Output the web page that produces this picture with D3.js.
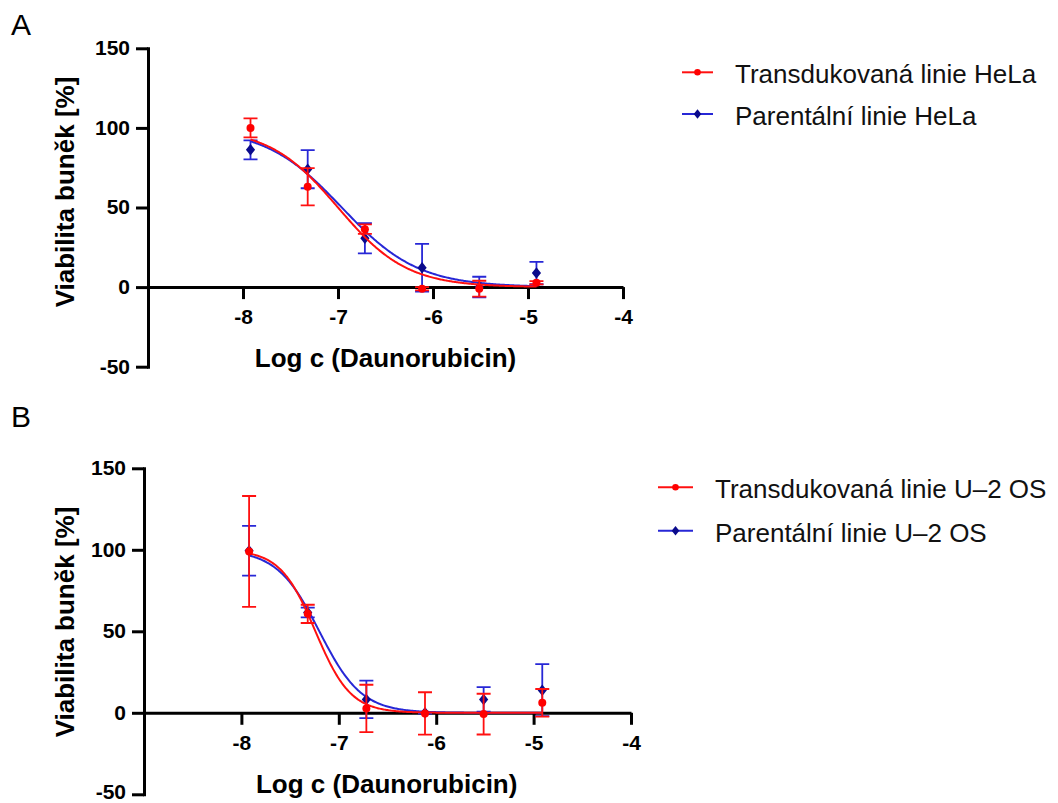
<!DOCTYPE html>
<html>
<head>
<meta charset="utf-8">
<script src="https://cdn.jsdelivr.net/npm/d3@7"></script>
<style>
  body { margin: 0; background: #fff; }
  svg { display: block; font-family: "Liberation Sans", Arial, sans-serif; }
</style>
</head>
<body>
<div id="container"></div>
<script>
// log concentration of daunorubicin (same for both panels)
const logConc = [-7.921, -7.319, -6.717, -6.115, -5.513, -4.911];

// panel A – HeLa
const helaTransMean = [100, 63, 36.4, -1, -1, 2.7];
const helaTransSd = [6, 11.7, 3, 1, 5, 1];
const helaParMean = [86.2, 74.1, 30.7, 12.2, 0, 8.8];
const helaParSd = [6, 12, 9.5, 15, 6.5, 7];

// panel B – U-2 OS
const u2osTransMean = [99, 60.7, 2.7, -0.4, -0.8, 6.1];
const u2osTransSd = [34, 5.6, 14.5, 13, 12.5, 8.5];
const u2osParMean = [99.4, 61.5, 8.2, 0, 8.2, 13.9];
const u2osParSd = [15.3, 3, 11.5, 0.5, 7.5, 16];

// four-parameter logistic fits: [bottom, top, logIC50, hill]
const helaTransFit = [0, 100, -7.0, 1.2];
const helaParFit = [0, 100, -6.96, 1.08];
const u2osTransFit = [0, 100, -7.24, 2.4];
const u2osParFit = [0, 100, -7.2, 2.0];

const xTicks = [-8, -7, -6, -5, -4];
const yTicks = [-50, 0, 50, 100, 150];
const xTitle = "Log c (Daunorubicin)";
const yTitle = "Viabilita buněk [%]";

const RED = "#ff1010", RED_DOT = "#ff0000";
const BLUE = "#2727d6", BLUE_DOT = "#0a0a8c";

const width = 1058, height = 803;
const svg = d3.select("#container").append("svg")
  .attr("width", width).attr("height", height);

const logistic = (p, x) => p[0] + (p[1] - p[0]) / (1 + Math.pow(10, (x - p[2]) * p[3]));

const panels = [
  {
    label: "A", labelY: 35,
    xr: [148, 623], yr: [366.7, 48.3],
    xTitleX: 385.5, xTitleY: 366.7, yTitleY: 192,
    legend: { x0: 682, x1: 713, tx: 735, y: [83.3, 125] },
    series: [
      { name: "Parentální linie HeLa", mean: helaParMean, sd: helaParSd, fit: helaParFit, color: BLUE, dot: BLUE_DOT, shape: "diamond" },
      { name: "Transdukovaná linie HeLa", mean: helaTransMean, sd: helaTransSd, fit: helaTransFit, color: RED, dot: RED_DOT, shape: "circle" }
    ]
  },
  {
    label: "B", labelY: 427,
    xr: [144, 631], yr: [794.3, 468.3],
    xTitleX: 386.7, xTitleY: 793, yTitleY: 622,
    legend: { x0: 658, x1: 693, tx: 715, y: [498.3, 541.7] },
    series: [
      { name: "Parentální linie U–2 OS", mean: u2osParMean, sd: u2osParSd, fit: u2osParFit, color: BLUE, dot: BLUE_DOT, shape: "diamond" },
      { name: "Transdukovaná linie U–2 OS", mean: u2osTransMean, sd: u2osTransSd, fit: u2osTransFit, color: RED, dot: RED_DOT, shape: "circle" }
    ]
  }
];

const drawMarker = (g, shape, color, r) => {
  if (shape === "circle") {
    g.append("circle").attr("r", r).attr("fill", color);
  } else {
    const w = r, h = r * 1.25;
    g.append("path").attr("d", `M0,${-h}L${w},0L0,${h}L${-w},0Z`).attr("fill", color);
  }
};

panels.forEach(p => {
  const x = d3.scaleLinear([-9, -4], p.xr);
  const y = d3.scaleLinear([-50, 150], p.yr);
  const g = svg.append("g");

  g.append("text").attr("x", 11).attr("y", p.labelY)
    .attr("font-size", 30).text(p.label);

  // axes
  const yAxis = g.append("g").attr("transform", `translate(${p.xr[0]},0)`)
    .call(d3.axisLeft(y).tickValues(yTicks).tickSize(12).tickSizeOuter(0).tickPadding(6).tickFormat(d => d));
  const xAxis = g.append("g").attr("transform", `translate(0,${y(0)})`)
    .call(d3.axisBottom(x).tickValues(xTicks).tickSize(12).tickSizeOuter(0).tickPadding(10).tickFormat(d => d));
  [yAxis, xAxis].forEach(a => {
    a.selectAll("path, line").attr("stroke", "#000").attr("stroke-width", 3);
    a.selectAll("text").attr("font-size", 21).attr("font-weight", "bold")
      .attr("font-family", "'Liberation Sans', Arial, sans-serif").attr("fill", "#000");
  });
  // keep the lowest label inside the page
  yAxis.selectAll("text").attr("dy", d => d === -50 && p.yr[0] > 790 ? "0.18em" : "0.3em");
  yAxis.select(".domain").attr("stroke-linecap", "square");

  g.append("text").attr("x", p.xTitleX).attr("y", p.xTitleY)
    .attr("text-anchor", "middle").attr("font-size", 26).attr("font-weight", "bold").text(xTitle);
  g.append("text").attr("transform", `translate(74,${p.yTitleY}) rotate(-90)`)
    .attr("text-anchor", "middle").attr("font-size", 26).attr("font-weight", "bold").text(yTitle);

  const line = d3.line().x(d => x(d[0])).y(d => y(d[1]));
  const xs = d3.range(logConc[0], logConc[logConc.length - 1] + 0.001, 0.01);

  p.series.forEach(s => {
    const sg = g.append("g");
    sg.append("path")
      .attr("d", line(xs.map(v => [v, logistic(s.fit, v)])))
      .attr("fill", "none").attr("stroke", s.color).attr("stroke-width", 2);

    logConc.forEach((c, i) => {
      const cx = x(c), lo = y(s.mean[i] - s.sd[i]), hi = y(s.mean[i] + s.sd[i]);
      sg.append("path")
        .attr("d", `M${cx},${lo}V${hi}M${cx - 7},${lo}H${cx + 7}M${cx - 7},${hi}H${cx + 7}`)
        .attr("fill", "none").attr("stroke", s.color).attr("stroke-width", 1.8);
      const m = sg.append("g").attr("transform", `translate(${cx},${y(s.mean[i])})`);
      drawMarker(m, s.shape, s.dot, s.shape === "circle" ? 4 : 4.6);
    });
  });

  // legend: transduced line first
  const legendOrder = [p.series[1], p.series[0]];
  legendOrder.forEach((s, i) => {
    const ly = p.legend.y[i];
    g.append("line").attr("x1", p.legend.x0).attr("x2", p.legend.x1)
      .attr("y1", ly - 11).attr("y2", ly - 11)
      .attr("stroke", s.color).attr("stroke-width", 2);
    const m = g.append("g").attr("transform", `translate(${(p.legend.x0 + p.legend.x1) / 2},${ly - 11})`);
    drawMarker(m, s.shape, s.dot, s.shape === "circle" ? 3.3 : 3.8);
    g.append("text").attr("x", p.legend.tx).attr("y", ly)
      .attr("font-size", 26).attr("fill", "#111").text(s.name);
  });
});
</script>
</body>
</html>
